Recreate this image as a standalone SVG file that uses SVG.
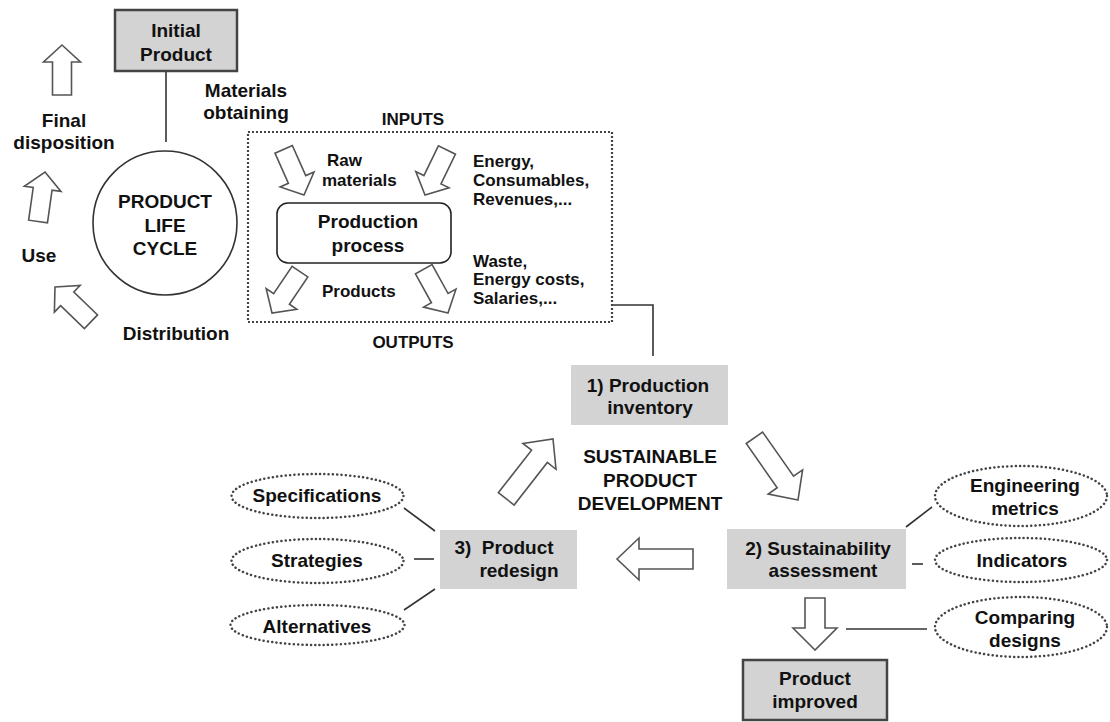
<svg xmlns="http://www.w3.org/2000/svg" width="1110" height="722" viewBox="0 0 1110 722">
<style>
text{font-family:"Liberation Sans",Arial,sans-serif;font-weight:bold;fill:#111;text-anchor:middle}
.s{font-size:17px}
.m{font-size:19px}
.l{text-anchor:start}
.box{fill:#d3d3d3;stroke:none}
.sbox{fill:#d3d3d3;stroke:#444;stroke-width:2.5}
.arr{fill:#fff;stroke:#555;stroke-width:1.6;stroke-linejoin:miter}
.ell{fill:none;stroke:#444;stroke-width:2.5;stroke-dasharray:0.1 4.2;stroke-linecap:round}
.ln{fill:none;stroke:#333;stroke-width:1.6}
</style>
<defs>
<path id="aS" d="M0,0 L18.5,17 L9.5,17 L9.5,50 L-9.5,50 L-9.5,17 L-18.5,17 Z"/>
<path id="aB" d="M0,0 L21,22 L10,22 L10,76 L-10,76 L-10,22 L-21,22 Z"/>
<path id="aD" d="M0,0 L22,22 L10,22 L10,52 L-10,52 L-10,22 L-22,22 Z"/>
</defs>

<g id="connectors">
<line class="ln" x1="166" y1="71" x2="166" y2="142"/>
<polyline class="ln" points="612,305 653,305 653,356"/>
<line class="ln" x1="404" y1="508" x2="435" y2="531"/>
<line class="ln" x1="414" y1="559" x2="434" y2="559"/>
<line class="ln" x1="404" y1="610" x2="435" y2="589"/>
<line class="ln" x1="906" y1="527" x2="932" y2="507"/>
<line class="ln" x1="912" y1="564" x2="923" y2="564"/>
<line class="ln" x1="846" y1="629" x2="927" y2="629"/>
</g>

<g id="arrows">
<use href="#aS" class="arr" transform="translate(62,45)"/>
<use href="#aS" class="arr" transform="translate(45,172) rotate(8)"/>
<use href="#aS" class="arr" transform="translate(55,287) rotate(-46)"/>
<use href="#aS" class="arr" transform="translate(304,195) rotate(156)"/>
<use href="#aS" class="arr" transform="translate(425,195) rotate(-154)"/>
<use href="#aS" class="arr" transform="translate(272,313) rotate(-146)"/>
<use href="#aS" class="arr" transform="translate(448,313) rotate(151)"/>
<use href="#aB" class="arr" transform="translate(553,439) rotate(38)"/>
<use href="#aB" class="arr" transform="translate(798,500) rotate(145)"/>
<use href="#aB" class="arr" transform="translate(617,559) rotate(-90)"/>
<use href="#aD" class="arr" transform="translate(815,650) rotate(180)"/>
</g>

<g id="initial-product">
<rect class="sbox" x="115" y="10" width="122" height="61"/>
<text class="m" x="176" y="37">Initial</text>
<text class="m" x="176" y="61">Product</text>
</g>

<g id="life-cycle">
<circle cx="165" cy="223" r="72" fill="#fff" stroke="#333" stroke-width="1.6"/>
<text class="m" x="165" y="208">PRODUCT</text>
<text class="m" x="165" y="232">LIFE</text>
<text class="m" x="165" y="255">CYCLE</text>
</g>

<g id="stage-labels">
<text class="m" x="246" y="97">Materials</text>
<text class="m" x="246" y="119">obtaining</text>
<text class="m" x="64" y="127">Final</text>
<text class="m" x="64" y="149">disposition</text>
<text class="m" x="39" y="262">Use</text>
<text class="m" x="176" y="340">Distribution</text>
</g>

<g id="production-box">
<rect x="248" y="132" width="364" height="190" fill="none" stroke="#444" stroke-width="2.2" stroke-dasharray="2 2"/>
<text class="s" x="413" y="125">INPUTS</text>
<text class="s" x="413" y="348">OUTPUTS</text>
<text class="s l" x="327" y="166">Raw</text>
<text class="s l" x="322" y="186">materials</text>
<text class="s l" x="473" y="167">Energy,</text>
<text class="s l" x="473" y="186">Consumables,</text>
<text class="s l" x="473" y="205">Revenues,...</text>
<text class="s l" x="473" y="267">Waste,</text>
<text class="s l" x="473" y="285">Energy costs,</text>
<text class="s l" x="473" y="304">Salaries,...</text>
<text class="s l" x="322" y="297">Products</text>
</g>

<g id="production-process">
<rect x="277" y="203" width="174" height="60" rx="11" fill="#fff" stroke="#222" stroke-width="1.6"/>
<text class="m" x="368" y="228">Production</text>
<text class="m" x="368" y="252">process</text>
</g>

<g id="production-inventory">
<rect class="box" x="571" y="365" width="157" height="60"/>
<text class="m" x="648" y="392">1) Production</text>
<text class="m" x="650" y="414">inventory</text>
</g>

<g id="spd-label">
<text class="m" x="650" y="463">SUSTAINABLE</text>
<text class="m" x="650" y="487">PRODUCT</text>
<text class="m" x="650" y="510">DEVELOPMENT</text>
</g>

<g id="sustainability-assessment">
<rect class="box" x="727" y="529" width="179" height="60"/>
<text class="m" x="818" y="555">2) Sustainability</text>
<text class="m" x="823" y="577">assessment</text>
</g>

<g id="product-redesign">
<rect class="box" x="440" y="530" width="137" height="59"/>
<text class="m" x="504" y="554" style="white-space:pre">3)  Product</text>
<text class="m" x="519" y="577">redesign</text>
</g>

<g id="product-improved">
<rect class="sbox" x="743" y="660" width="144" height="60"/>
<text class="m" x="815" y="685">Product</text>
<text class="m" x="815" y="708">improved</text>
</g>

<g id="specifications">
<ellipse class="ell" cx="317.5" cy="496" rx="86" ry="22"/>
<text class="m" x="317" y="502">Specifications</text>
</g>
<g id="strategies">
<ellipse class="ell" cx="317.5" cy="561" rx="86" ry="22"/>
<text class="m" x="317" y="567">Strategies</text>
</g>
<g id="alternatives">
<ellipse class="ell" cx="317.5" cy="625" rx="87" ry="20"/>
<text class="m" x="317" y="633">Alternatives</text>
</g>
<g id="engineering-metrics">
<ellipse class="ell" cx="1021" cy="496" rx="86" ry="30"/>
<text class="m" x="1025" y="492">Engineering</text>
<text class="m" x="1025" y="515">metrics</text>
</g>
<g id="indicators">
<ellipse class="ell" cx="1021" cy="560" rx="86" ry="22"/>
<text class="m" x="1022" y="567">Indicators</text>
</g>
<g id="comparing-designs">
<ellipse class="ell" cx="1021" cy="627" rx="86" ry="30"/>
<text class="m" x="1025" y="624">Comparing</text>
<text class="m" x="1025" y="647">designs</text>
</g>
</svg>
